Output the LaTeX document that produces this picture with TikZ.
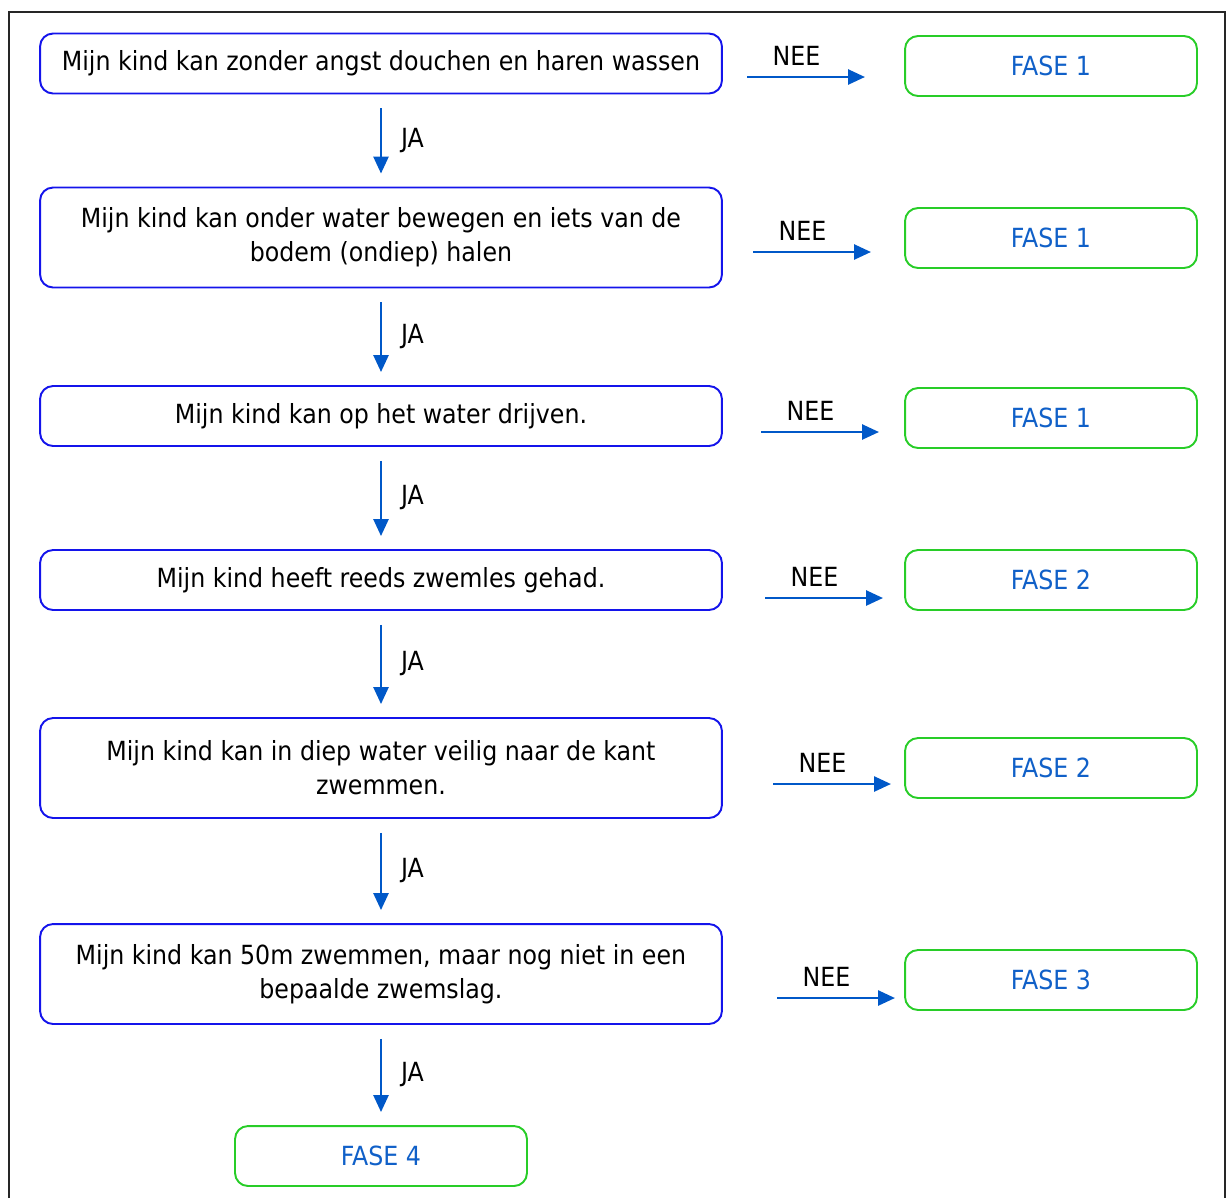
\documentclass[tikz,border=0pt]{standalone}
\usepackage{fontspec}
\setmainfont{DejaVu Sans Condensed}
\usetikzlibrary{arrows.meta}
\definecolor{askblue}{RGB}{20,20,235}
\definecolor{fasegreen}{RGB}{40,205,40}
\definecolor{arrowblue}{RGB}{0,88,200}
\definecolor{fasetext}{RGB}{16,96,200}
\begin{document}
\begin{tikzpicture}[x=0.02cm, y=-0.02cm, line width=1.1pt,
  ask node/.style={rectangle, rounded corners=0.26cm, draw=askblue, minimum width=13.64cm, minimum height=1.2cm, align=center, font=\fontsize{15}{19.4}\selectfont},
  fase node/.style={rectangle, rounded corners=0.26cm, draw=fasegreen, text=fasetext, minimum width=5.84cm, minimum height=1.2cm, font=\fontsize{15}{18}\selectfont},
  ja/.style={color=arrowblue, line width=1.5pt, -{Triangle[width=0.3cm, length=0.34cm]}, shorten <=0.28cm, shorten >=0.26cm},
  nee/.style={color=arrowblue, line width=1.5pt, -{Triangle[width=0.3cm, length=0.34cm]}},
  tag/.style={font=\fontsize{15}{18}\selectfont, text=black}]
\useasboundingbox (0,0) rectangle (1229,1198);
% frame
\draw[line width=1.2pt, black!85] (9,1198) -- (9,12) -- (1225,12) -- (1225,1198);
% questions
\node [ask node](q1) at (381,63.5) {Mijn kind kan zonder angst douchen en haren wassen};
\node [ask node, minimum height=2cm](q2) at (381,237.5) {Mijn kind kan onder water bewegen en iets van de\\bodem (ondiep) halen};
\node [ask node](q3) at (381,416) {Mijn kind kan op het water drijven.};
\node [ask node](q4) at (381,580) {Mijn kind heeft reeds zwemles gehad.};
\node [ask node, minimum height=2cm](q5) at (381,768) {Mijn kind kan in diep water veilig naar de kant\\zwemmen.};
\node [ask node, minimum height=2cm](q6) at (381,974) {Mijn kind kan 50m zwemmen, maar nog niet in een\\bepaalde zwemslag.};
% phases
\node [fase node](f1) at (1051,66) {FASE 1};
\node [fase node](f2) at (1051,238) {FASE 1};
\node [fase node](f3) at (1051,418) {FASE 1};
\node [fase node](f4) at (1051,580) {FASE 2};
\node [fase node](f5) at (1051,768) {FASE 2};
\node [fase node](f6) at (1051,980) {FASE 3};
\node [fase node](f7) at (381,1156) {FASE 4};
% NEE arrow ends
\coordinate (n1) at (747,77);  \coordinate (m1) at (865,77);
\coordinate (n2) at (753,252); \coordinate (m2) at (871,252);
\coordinate (n3) at (761,432); \coordinate (m3) at (879,432);
\coordinate (n4) at (765,598); \coordinate (m4) at (883,598);
\coordinate (n5) at (773,784); \coordinate (m5) at (891,784);
\coordinate (n6) at (777,998); \coordinate (m6) at (895,998);
\path
	(q1) edge[ja] node[tag, right, xshift=0.26cm] {JA} (q2)
	(q2) edge[ja] node[tag, right, xshift=0.26cm] {JA} (q3)
	(q3) edge[ja] node[tag, right, xshift=0.26cm] {JA} (q4)
	(q4) edge[ja] node[tag, right, xshift=0.26cm] {JA} (q5)
	(q5) edge[ja] node[tag, right, xshift=0.26cm] {JA} (q6)
	(q6) edge[ja] node[tag, right, xshift=0.26cm] {JA} (f7)
	;
\path
	(n1) edge[nee] node[tag, above, pos=0.42, yshift=0.08cm] {NEE} (m1)
	(n2) edge[nee] node[tag, above, pos=0.42, yshift=0.08cm] {NEE} (m2)
	(n3) edge[nee] node[tag, above, pos=0.42, yshift=0.08cm] {NEE} (m3)
	(n4) edge[nee] node[tag, above, pos=0.42, yshift=0.08cm] {NEE} (m4)
	(n5) edge[nee] node[tag, above, pos=0.42, yshift=0.08cm] {NEE} (m5)
	(n6) edge[nee] node[tag, above, pos=0.42, yshift=0.08cm] {NEE} (m6)
	;
\end{tikzpicture}
\end{document}
